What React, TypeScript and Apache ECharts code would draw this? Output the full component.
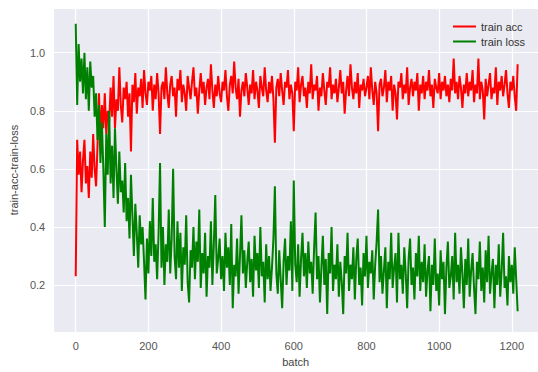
import React, { useEffect, useRef } from "react";
import * as echarts from "echarts";

const step = 4;

const accVals = [
  0.23, 0.70, 0.58, 0.66, 0.52, 0.63, 0.70, 0.55, 0.61, 0.50, 0.66, 0.57, 0.72, 0.60, 0.54, 0.68, 0.86, 0.70, 0.82, 0.74,
  0.86, 0.72, 0.80, 0.76, 0.88, 0.78, 0.92, 0.74, 0.84, 0.80, 0.95, 0.82, 0.76, 0.88, 0.84, 0.90, 0.78, 0.86, 0.66, 0.89,
  0.83, 0.93, 0.79, 0.88, 0.85, 0.91, 0.81, 0.94, 0.86, 0.82, 0.90, 0.87, 0.92, 0.80, 0.89, 0.84, 0.93, 0.86, 0.72, 0.88,
  0.90, 0.84, 0.95, 0.86, 0.81, 0.89, 0.92, 0.85, 0.88, 0.78, 0.91, 0.87, 0.94, 0.83, 0.89, 0.86, 0.80, 0.92, 0.88, 0.84,
  0.90, 0.95, 0.85, 0.88, 0.79, 0.87, 0.93, 0.86, 0.90, 0.82, 0.88, 0.91, 0.84, 0.96, 0.87, 0.81, 0.89, 0.85, 0.92, 0.86,
  0.83, 0.90, 0.87, 0.94, 0.85, 0.80, 0.89, 0.92, 0.86, 0.97, 0.88, 0.84, 0.91, 0.78, 0.87, 0.90, 0.85, 0.93, 0.88, 0.82,
  0.89, 0.86, 0.94, 0.84, 0.90, 0.87, 0.81, 0.92, 0.88, 0.85, 0.95, 0.87, 0.83, 0.90, 0.86, 0.92, 0.84, 0.69, 0.88, 0.91,
  0.85, 0.93, 0.87, 0.82, 0.90, 0.88, 0.94, 0.84, 0.89, 0.86, 0.73, 0.90, 0.87, 0.95, 0.83, 0.89, 0.92, 0.85, 0.88, 0.81,
  0.90, 0.86, 0.96, 0.84, 0.89, 0.87, 0.92, 0.80, 0.88, 0.85, 0.93, 0.87, 0.82, 0.90, 0.88, 0.95, 0.84, 0.89, 0.86, 0.91,
  0.83, 0.88, 0.94, 0.86, 0.90, 0.79, 0.87, 0.92, 0.85, 0.96, 0.88, 0.84, 0.90, 0.86, 0.93, 0.81, 0.89, 0.87, 0.91, 0.85,
  0.88, 0.92, 0.84, 0.95, 0.87, 0.82, 0.90, 0.86, 0.73, 0.89, 0.91, 0.85, 0.88, 0.94, 0.83, 0.90, 0.87, 0.92, 0.80, 0.89,
  0.86, 0.77, 0.90, 0.88, 0.93, 0.84, 0.89, 0.86, 0.95, 0.82, 0.88, 0.91, 0.85, 0.90, 0.87, 0.93, 0.80, 0.89, 0.86, 0.92,
  0.84, 0.90, 0.87, 0.94, 0.85, 0.89, 0.81, 0.91, 0.88, 0.86, 0.93, 0.84, 0.90, 0.87, 0.92, 0.85, 0.89, 0.83, 0.91, 0.87,
  0.98, 0.86, 0.90, 0.84, 0.92, 0.88, 0.81, 0.89, 0.86, 0.93, 0.85, 0.90, 0.87, 0.94, 0.83, 0.89, 0.86, 0.98, 0.84, 0.90,
  0.87, 0.77, 0.91, 0.85, 0.89, 0.93, 0.84, 0.88, 0.86, 0.95, 0.82, 0.90, 0.87, 0.92, 0.85, 0.89, 0.94, 0.86, 0.81, 0.90,
  0.87, 0.92, 0.85, 0.80, 0.96,
];

const lossVals = [
  1.10, 0.82, 1.03, 0.90, 0.98, 0.86, 1.00, 0.84, 0.95, 0.80, 0.97, 0.88, 0.92, 0.78, 0.86, 0.70, 0.82, 0.62, 0.76, 0.60,
  0.40, 0.72, 0.58, 0.80, 0.55, 0.68, 0.50, 0.74, 0.60, 0.48, 0.66, 0.52, 0.56, 0.45, 0.62, 0.42, 0.50, 0.36, 0.58, 0.44,
  0.30, 0.48, 0.38, 0.26, 0.44, 0.34, 0.40, 0.28, 0.15, 0.36, 0.24, 0.42, 0.30, 0.50, 0.28, 0.34, 0.22, 0.38, 0.62, 0.26,
  0.40, 0.20, 0.34, 0.28, 0.46, 0.24, 0.36, 0.60, 0.30, 0.22, 0.42, 0.26, 0.38, 0.18, 0.33, 0.27, 0.44, 0.21, 0.14, 0.32,
  0.26, 0.40, 0.22, 0.35, 0.28, 0.46, 0.19, 0.31, 0.24, 0.38, 0.16, 0.30, 0.26, 0.42, 0.20, 0.34, 0.51, 0.24, 0.29, 0.36,
  0.22, 0.30, 0.18, 0.38, 0.26, 0.33, 0.20, 0.41, 0.12, 0.27, 0.23, 0.36, 0.17, 0.30, 0.44, 0.24, 0.32, 0.19, 0.28, 0.35,
  0.21, 0.29, 0.16, 0.37, 0.25, 0.31, 0.19, 0.40, 0.23, 0.28, 0.14, 0.34, 0.22, 0.30, 0.18, 0.26, 0.36, 0.54, 0.24, 0.17,
  0.32, 0.22, 0.12, 0.28, 0.36, 0.20, 0.30, 0.25, 0.42, 0.18, 0.56, 0.27, 0.21, 0.34, 0.16, 0.29, 0.38, 0.23, 0.31, 0.19,
  0.35, 0.24, 0.28, 0.17, 0.33, 0.45, 0.22, 0.30, 0.14, 0.26, 0.37, 0.20, 0.29, 0.10, 0.31, 0.24, 0.40, 0.18, 0.27, 0.22,
  0.34, 0.16, 0.28, 0.21, 0.10, 0.30, 0.24, 0.38, 0.18, 0.27, 0.22, 0.33, 0.15, 0.29, 0.36, 0.20, 0.26, 0.13, 0.31, 0.23,
  0.37, 0.19, 0.28, 0.24, 0.32, 0.15, 0.27, 0.35, 0.46, 0.21, 0.30, 0.17, 0.25, 0.33, 0.12, 0.28, 0.22, 0.38, 0.19, 0.26,
  0.31, 0.14, 0.38, 0.22, 0.27, 0.17, 0.33, 0.24, 0.12, 0.29, 0.36, 0.20, 0.26, 0.15, 0.31, 0.23, 0.37, 0.18, 0.28, 0.21,
  0.34, 0.16, 0.25, 0.30, 0.11, 0.27, 0.20, 0.36, 0.18, 0.24, 0.13, 0.32, 0.22, 0.28, 0.10, 0.26, 0.35, 0.19, 0.23, 0.30,
  0.15, 0.38, 0.21, 0.27, 0.17, 0.33, 0.24, 0.12, 0.29, 0.20, 0.36, 0.16, 0.25, 0.31, 0.19, 0.10, 0.28, 0.22, 0.35, 0.18,
  0.26, 0.14, 0.32, 0.21, 0.37, 0.17, 0.24, 0.29, 0.12, 0.27, 0.20, 0.34, 0.16, 0.25, 0.38, 0.19, 0.23, 0.13, 0.30, 0.21,
  0.27, 0.17, 0.33, 0.22, 0.11,
];

const seriesNames = ["train acc", "train loss"];
const seriesColors = ["#ff0000", "#008000"];

const FONT = "'Liberation Sans', Arial, sans-serif";

export default function App() {
  const ref = useRef<HTMLDivElement>(null);
  useEffect(() => {
    if (!ref.current) return;
    const chart = echarts.init(ref.current, undefined, { renderer: "svg" });
    const toPairs = (vals: number[]) => vals.map((v, i) => [i * step, v]);
    chart.setOption({
      animation: false,
      backgroundColor: "#ffffff",
      textStyle: { fontFamily: FONT },
      grid: { left: 48, top: 8, right: 0, bottom: 35, backgroundColor: "#eaeaf2", show: true, borderWidth: 0 },
      legend: {
        right: 8,
        top: 16,
        orient: "vertical",
        icon: "rect",
        itemWidth: 23,
        itemHeight: 2,
        itemGap: 4,
        data: seriesNames,
        textStyle: { color: "#333", fontSize: 11, fontFamily: FONT },
      },
      xAxis: {
        type: "value",
        min: -62,
        max: 1272,
        splitNumber: 7,
        name: "batch",
        nameLocation: "middle",
        nameGap: 20,
        nameTextStyle: { color: "#444", fontSize: 11, fontFamily: FONT },
        axisLine: { show: false },
        axisTick: { show: false },
        axisLabel: {
          color: "#555",
          fontSize: 11,
          fontFamily: FONT,
          margin: 8,
          showMinLabel: false,
          showMaxLabel: false,
          formatter: (v: number) => String(Math.round(v)),
        },
        splitLine: { show: true, lineStyle: { color: "#ffffff", width: 1.2 } },
      },
      yAxis: {
        type: "value",
        min: 0.038,
        max: 1.154,
        splitNumber: 5,
        name: "train-acc-train-loss",
        nameLocation: "middle",
        nameRotate: 90,
        nameGap: 30,
        nameTextStyle: { color: "#444", fontSize: 11, fontFamily: FONT },
        axisLine: { show: false },
        axisTick: { show: false },
        axisLabel: {
          color: "#555",
          fontSize: 11,
          fontFamily: FONT,
          margin: 8,
          showMinLabel: false,
          showMaxLabel: false,
          formatter: (v: number) => v.toFixed(1),
        },
        splitLine: { show: true, lineStyle: { color: "#ffffff", width: 1.2 } },
      },
      series: [
        {
          name: seriesNames[0],
          type: "line",
          data: toPairs(accVals),
          symbol: "none",
          color: seriesColors[0],
          lineStyle: { color: seriesColors[0], width: 2 },
        },
        {
          name: seriesNames[1],
          type: "line",
          data: toPairs(lossVals),
          symbol: "none",
          color: seriesColors[1],
          lineStyle: { color: seriesColors[1], width: 2 },
        },
      ],
    });
    return () => chart.dispose();
  }, []);
  return <div ref={ref} style={{ position: "fixed", left: 0, top: 0, width: 538, height: 372 }} />;
}
